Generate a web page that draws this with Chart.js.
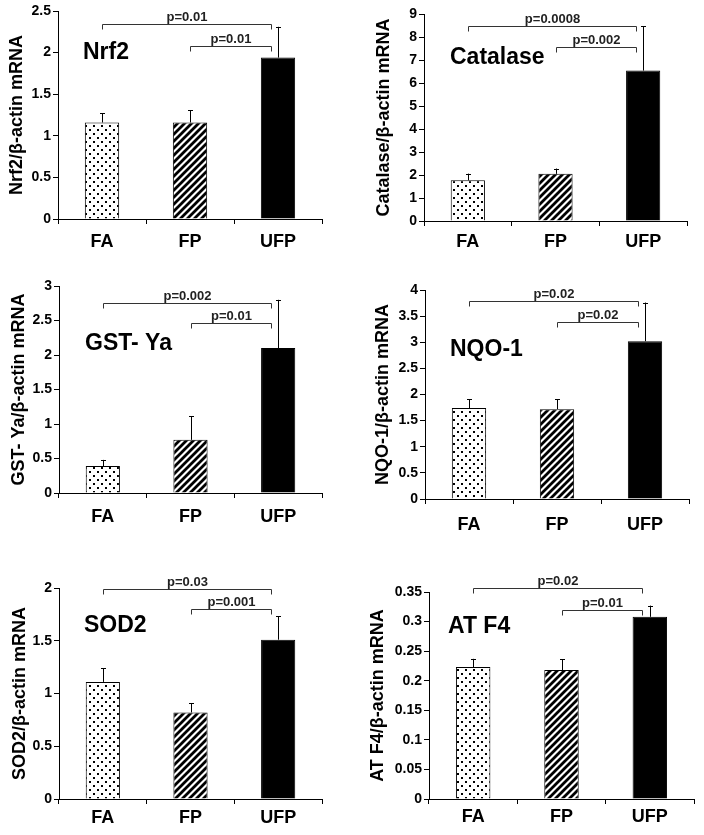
<!DOCTYPE html>
<html><head><meta charset="utf-8">
<script src="https://cdn.jsdelivr.net/npm/chart.js@4/dist/chart.umd.min.js"></script>
<style>
html,body{margin:0;padding:0;background:#fff}
body{width:704px;height:835px;position:relative;overflow:hidden}
canvas{position:absolute;display:block}
</style></head>
<body>
<canvas id="c1" width="352" height="270" style="left:0;top:0"></canvas>
<canvas id="c2" width="352" height="270" style="left:352px;top:0"></canvas>
<canvas id="c3" width="352" height="270" style="left:0;top:270px"></canvas>
<canvas id="c4" width="352" height="270" style="left:352px;top:270px"></canvas>
<canvas id="c5" width="352" height="295" style="left:0;top:540px"></canvas>
<canvas id="c6" width="352" height="295" style="left:352px;top:540px"></canvas>
<script>
// ---------- DATA ----------
const categories = ['FA', 'FP', 'UFP'];

const nrf2Means = [1.16, 1.16, 1.94];
const nrf2Errors = [0.11, 0.15, 0.37];
const nrf2Ticks = [0, 0.5, 1, 1.5, 2, 2.5];
const nrf2Brackets = [2.34, 2.08];
const nrf2PValues = ['p=0.01', 'p=0.01'];

const catalaseMeans = [1.77, 2.05, 6.54];
const catalaseErrors = [0.29, 0.23, 1.92];
const catalaseTicks = [0, 1, 2, 3, 4, 5, 6, 7, 8, 9];
const catalaseBrackets = [8.46, 7.56];
const catalasePValues = ['p=0.0008', 'p=0.002'];

const gstMeans = [0.39, 0.77, 2.10];
const gstErrors = [0.09, 0.34, 0.70];
const gstTicks = [0, 0.5, 1, 1.5, 2, 2.5, 3];
const gstBrackets = [2.76, 2.47];
const gstPValues = ['p=0.002', 'p=0.01'];

const nqoMeans = [1.74, 1.72, 3.02];
const nqoErrors = [0.17, 0.19, 0.74];
const nqoTicks = [0, 0.5, 1, 1.5, 2, 2.5, 3, 3.5, 4];
const nqoBrackets = [3.79, 3.39];
const nqoPValues = ['p=0.02', 'p=0.02'];

const sod2Means = [1.11, 0.82, 1.51];
const sod2Errors = [0.13, 0.09, 0.22];
const sod2Ticks = [0, 0.5, 1, 1.5, 2];
const sod2Brackets = [1.99, 1.80];
const sod2PValues = ['p=0.03', 'p=0.001'];

const atf4Means = [0.223, 0.218, 0.308];
const atf4Errors = [0.014, 0.018, 0.019];
const atf4Ticks = [0, 0.05, 0.1, 0.15, 0.2, 0.25, 0.3, 0.35];
const atf4Brackets = [0.356, 0.319];
const atf4PValues = ['p=0.02', 'p=0.01'];

const bracketFrom = [0, 1];
const bracketTo = [2, 2];

// ---------- STYLE ----------
const FONT = "'Liberation Sans', Arial, Helvetica, sans-serif";

function dotPattern() {
  const c = document.createElement('canvas'); c.width = 8; c.height = 8;
  const g = c.getContext('2d');
  g.fillStyle = '#fff'; g.fillRect(0, 0, 8, 8);
  g.fillStyle = '#000';
  g.fillRect(1, 1, 2, 2); g.fillRect(5, 5, 2, 2);
  return g.createPattern(c, 'repeat');
}
function stripePattern() {
  const s = 7;
  const c = document.createElement('canvas'); c.width = s; c.height = s;
  const g = c.getContext('2d');
  g.fillStyle = '#fff'; g.fillRect(0, 0, s, s);
  g.strokeStyle = '#000'; g.lineWidth = 2.8;
  g.beginPath();
  g.moveTo(-1, s + 1); g.lineTo(s + 1, -1);
  g.moveTo(-2, 2); g.lineTo(2, -2);
  g.moveTo(s - 2, s + 2); g.lineTo(s + 2, s - 2);
  g.stroke();
  return g.createPattern(c, 'repeat');
}

const panelPlugin = {
  id: 'panelExtras',
  afterDatasetsDraw(chart) {
    const o = chart.options.plugins.panelExtras;
    const ctx = chart.ctx;
    const xs = chart.scales.x, ys = chart.scales.y;
    const meta = chart.getDatasetMeta(0);
    ctx.save();
    // error bars
    ctx.strokeStyle = '#000'; ctx.lineWidth = 1;
    meta.data.forEach((bar, i) => {
      const x = Math.round(bar.x) + 0.5;
      const yTop = ys.getPixelForValue(o.means[i] + o.errors[i]);
      const yBase = ys.getPixelForValue(o.means[i]);
      ctx.beginPath();
      ctx.moveTo(x, yBase); ctx.lineTo(x, yTop);
      ctx.moveTo(x - 2.5, Math.round(yTop) + 0.5); ctx.lineTo(x + 2.5, Math.round(yTop) + 0.5);
      ctx.stroke();
    });
    // significance brackets
    ctx.strokeStyle = '#333'; ctx.fillStyle = '#222';
    ctx.font = 'bold 13px ' + FONT;
    ctx.textAlign = 'center'; ctx.textBaseline = 'alphabetic';
    const catW = xs.getPixelForValue(1) - xs.getPixelForValue(0);
    o.brackets.forEach((v, k) => {
      const y = Math.round(ys.getPixelForValue(v)) + 0.5;
      const x1 = Math.round(xs.getPixelForValue(bracketFrom[k])) + 0.5;
      const x2 = Math.round(xs.getPixelForValue(bracketTo[k]) - 0.085 * catW) + 0.5;
      ctx.beginPath();
      ctx.moveTo(x1, y + 5); ctx.lineTo(x1, y); ctx.lineTo(x2, y); ctx.lineTo(x2, y + 5);
      ctx.stroke();
      ctx.fillText(o.pvalues[k], (x1 + x2) / 2, y - 4);
    });
    // panel name
    ctx.fillStyle = '#000';
    ctx.font = 'bold 23px ' + FONT;
    ctx.textAlign = 'left'; ctx.textBaseline = 'middle';
    ctx.fillText(o.name, o.nameX, o.nameY);
    ctx.restore();
  }
};

function makePanel(id, p) {
  const canvas = document.getElementById(id);
  const W = canvas.width, H = canvas.height;
  return new Chart(canvas, {
    type: 'bar',
    data: {
      labels: categories,
      datasets: [{
        data: p.means,
        backgroundColor: [dotPattern(), stripePattern(), '#000'],
        borderColor: '#000',
        borderWidth: 1,
        borderSkipped: 'bottom',
        categoryPercentage: 1,
        barPercentage: 0.39
      }]
    },
    options: {
      responsive: false,
      animation: false,
      devicePixelRatio: 1,
      layout: { padding: { left: 0, top: p.area[1], right: W - p.area[2], bottom: 0 } },
      plugins: {
        legend: { display: false },
        tooltip: { enabled: false },
        panelExtras: {
          means: p.means, errors: p.errors, brackets: p.brackets, pvalues: p.pvalues,
          name: p.name, nameX: p.nameX, nameY: p.nameY
        }
      },
      scales: {
        x: {
          grid: { offset: true, drawOnChartArea: false, drawTicks: true, tickLength: 5, color: '#000', lineWidth: 1 },
          border: { display: true, color: '#000', width: 1 },
          ticks: { color: '#000', font: { family: FONT, size: 18, weight: 'bold' }, padding: p.xPad, maxRotation: 0 },
          afterFit: (s) => { s.height = H - p.area[3]; }
        },
        y: {
          min: p.ticks[0], max: p.ticks[p.ticks.length - 1],
          afterBuildTicks: (s) => { s.ticks = p.ticks.map(v => ({ value: v })); },
          grid: { drawOnChartArea: false, drawTicks: true, tickLength: 5, color: '#000', lineWidth: 1 },
          border: { display: true, color: '#000', width: 1 },
          ticks: { color: '#000', font: { family: FONT, size: 14, weight: 'bold' }, padding: 2,
                   callback: (v) => String(v) },
          title: { display: true, text: p.yTitle, color: '#000',
                   font: { family: FONT, size: 18, weight: 'bold' }, padding: { top: p.titlePad, bottom: 0 } },
          afterFit: (s) => { s.width = p.area[0]; }
        }
      }
    },
    plugins: [panelPlugin]
  });
}

makePanel('c1', { means: nrf2Means, errors: nrf2Errors, ticks: nrf2Ticks, brackets: nrf2Brackets, pvalues: nrf2PValues,
  name: 'Nrf2', yTitle: 'Nrf2/β-actin mRNA', area: [58, 11, 322, 219], titlePad: 6, xPad: 7, nameX: 83, nameY: 53 });
makePanel('c2', { means: catalaseMeans, errors: catalaseErrors, ticks: catalaseTicks, brackets: catalaseBrackets, pvalues: catalasePValues,
  name: 'Catalase', yTitle: 'Catalase/β-actin mRNA', area: [72, 14, 335, 221], titlePad: 21, xPad: 5, nameX: 98, nameY: 58 });
makePanel('c3', { means: gstMeans, errors: gstErrors, ticks: gstTicks, brackets: gstBrackets, pvalues: gstPValues,
  name: 'GST- Ya', yTitle: 'GST- Ya/β-actin mRNA', area: [59, 16, 322, 223], titlePad: 8, xPad: 8, nameX: 85, nameY: 74 });
makePanel('c4', { means: nqoMeans, errors: nqoErrors, ticks: nqoTicks, brackets: nqoBrackets, pvalues: nqoPValues,
  name: 'NQO-1', yTitle: 'NQO-1/β-actin mRNA', area: [73, 20, 337, 229], titlePad: 20, xPad: 10, nameX: 98, nameY: 80 });
makePanel('c5', { means: sod2Means, errors: sod2Errors, ticks: sod2Ticks, brackets: sod2Brackets, pvalues: sod2PValues,
  name: 'SOD2', yTitle: 'SOD2/β-actin mRNA', area: [59, 48, 322, 259], titlePad: 9, xPad: 3, nameX: 84, nameY: 86 });
makePanel('c6', { means: atf4Means, errors: atf4Errors, ticks: atf4Ticks, brackets: atf4Brackets, pvalues: atf4PValues,
  name: 'AT F4', yTitle: 'AT F4/β-actin mRNA', area: [77, 52, 342, 259], titlePad: 15, xPad: 2, nameX: 96, nameY: 87 });
</script>
</body></html>
